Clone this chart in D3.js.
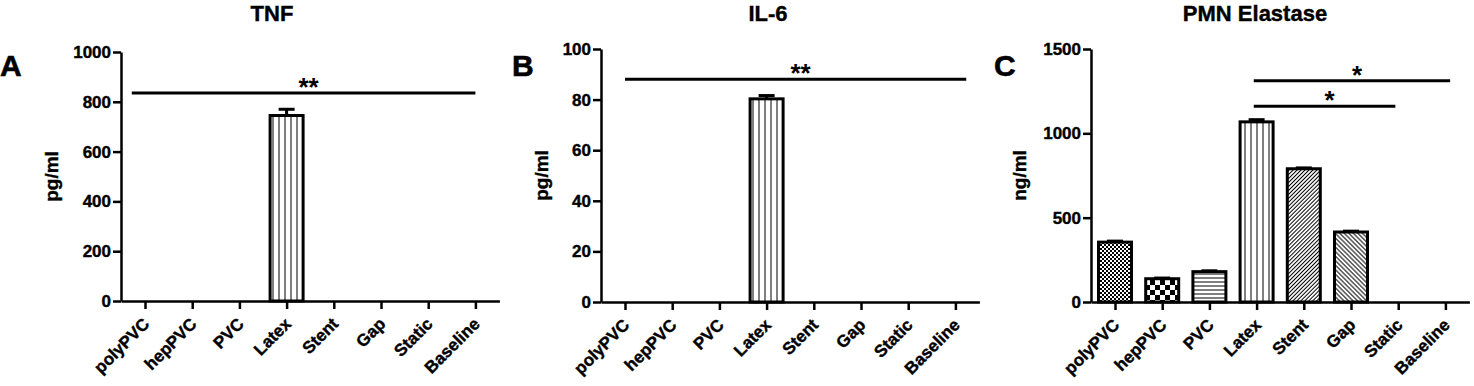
<!DOCTYPE html>
<html>
<head>
<meta charset="utf-8">
<script src="https://cdn.jsdelivr.net/npm/d3@7"></script>
<style>
  body { margin: 0; background: #fff; }
  svg { display: block; font-family: "Liberation Sans", Arial, sans-serif; }
</style>
</head>
<body>
<div id="chart"></div>
<script>
const categories = ['polyPVC', 'hepPVC', 'PVC', 'Latex', 'Stent', 'Gap', 'Static', 'Baseline'];

const tnfValues = [0, 0, 0, 745, 0, 0, 0, 0];
const tnfErrors = [0, 0, 0, 25, 0, 0, 0, 0];
const il6Values = [0, 0, 0, 80.3, 0, 0, 0, 0];
const il6Errors = [0, 0, 0, 1.3, 0, 0, 0, 0];
const elastaseValues = [355, 138, 180, 1068, 790, 415, 0, 0];
const elastaseErrors = [6, 4, 5, 13, 5, 5, 0, 0];

const tnfTicks = [0, 200, 400, 600, 800, 1000];
const il6Ticks = [0, 20, 40, 60, 80, 100];
const elastaseTicks = [0, 500, 1000, 1500];

// significance bars: span in category index units, height in data units
const tnfSig = [{ from: -0.28, to: 7, y: 835, label: '**' }];
const il6Sig = [{ from: 0, to: 7.23, y: 88, label: '**' }];
const elastaseSig = [
  { from: 2.94, to: 7.1, y: 1312, label: '*' },
  { from: 2.94, to: 5.94, y: 1161, label: '*' }
];

// hatch used by each group
const groupPatterns = ['fineCheck', 'coarseCheck', 'hlines', 'vlines', 'diagUp', 'diagDown', 'none', 'none'];

const width = 1474;
const height = 386;
const step = 47.2;
const barWidth = 33;

const panels = [
  { letter: 'A', title: 'TNF', yLabel: 'pg/ml', values: tnfValues, errors: tnfErrors, ticks: tnfTicks, sig: tnfSig,
    axisX: 121, yTop: 52, yBottom: 301, titleX: 272, letterX: 0, yLabelX: 58 },
  { letter: 'B', title: 'IL-6', yLabel: 'pg/ml', values: il6Values, errors: il6Errors, ticks: il6Ticks, sig: il6Sig,
    axisX: 601, yTop: 49, yBottom: 302, titleX: 768, letterX: 512, yLabelX: 548 },
  { letter: 'C', title: 'PMN Elastase', yLabel: 'ng/ml', values: elastaseValues, errors: elastaseErrors, ticks: elastaseTicks, sig: elastaseSig,
    axisX: 1091, yTop: 49, yBottom: 302, titleX: 1255, letterX: 994, yLabelX: 1026 }
];

const svg = d3.select('#chart')
  .append('svg')
  .attr('width', width)
  .attr('height', height);

svg.append('rect').attr('width', width).attr('height', height).attr('fill', '#fff');

// patterns
const defs = svg.append('defs');

const fine = defs.append('pattern').attr('id', 'fineCheck')
  .attr('patternUnits', 'userSpaceOnUse').attr('width', 4).attr('height', 4);
fine.append('rect').attr('width', 4).attr('height', 4).attr('fill', '#fff');
fine.append('rect').attr('width', 2).attr('height', 2).attr('fill', '#000');
fine.append('rect').attr('x', 2).attr('y', 2).attr('width', 2).attr('height', 2).attr('fill', '#000');

const coarse = defs.append('pattern').attr('id', 'coarseCheck')
  .attr('patternUnits', 'userSpaceOnUse').attr('width', 10).attr('height', 10);
coarse.append('rect').attr('width', 10).attr('height', 10).attr('fill', '#fff');
coarse.append('rect').attr('width', 5).attr('height', 5).attr('fill', '#000');
coarse.append('rect').attr('x', 5).attr('y', 5).attr('width', 5).attr('height', 5).attr('fill', '#000');

const hl = defs.append('pattern').attr('id', 'hlines')
  .attr('patternUnits', 'userSpaceOnUse').attr('width', 4).attr('height', 4);
hl.append('rect').attr('width', 4).attr('height', 4).attr('fill', '#fff');
hl.append('line').attr('x1', 0).attr('x2', 4).attr('y1', 2).attr('y2', 2).attr('stroke', '#000').attr('stroke-width', 1);

const vl = defs.append('pattern').attr('id', 'vlines')
  .attr('patternUnits', 'userSpaceOnUse').attr('width', 6).attr('height', 6);
vl.append('rect').attr('width', 6).attr('height', 6).attr('fill', '#fff');
vl.append('line').attr('x1', 3).attr('x2', 3).attr('y1', 0).attr('y2', 6).attr('stroke', '#000').attr('stroke-width', 1);

const du = defs.append('pattern').attr('id', 'diagUp')
  .attr('patternUnits', 'userSpaceOnUse').attr('width', 2.8).attr('height', 2.8)
  .attr('patternTransform', 'rotate(45)');
du.append('rect').attr('width', 2.8).attr('height', 2.8).attr('fill', '#fff');
du.append('line').attr('x1', 1.4).attr('x2', 1.4).attr('y1', 0).attr('y2', 2.8).attr('stroke', '#000').attr('stroke-width', 1);

const dd = defs.append('pattern').attr('id', 'diagDown')
  .attr('patternUnits', 'userSpaceOnUse').attr('width', 3.2).attr('height', 3.2)
  .attr('patternTransform', 'rotate(-45)');
dd.append('rect').attr('width', 3.2).attr('height', 3.2).attr('fill', '#fff');
dd.append('line').attr('x1', 1.6).attr('x2', 1.6).attr('y1', 0).attr('y2', 3.2).attr('stroke', '#000').attr('stroke-width', 1);

panels.forEach(p => {
  const g = svg.append('g').attr('class', 'panel');

  const x = d3.scalePoint()
    .domain(categories)
    .range([p.axisX, p.axisX + 7 * step + 48])
    .padding(24 / step);
  const y = d3.scaleLinear()
    .domain([0, d3.max(p.ticks)])
    .range([p.yBottom, p.yTop]);
  const xIdx = d3.scaleLinear()
    .domain([0, categories.length - 1])
    .range([x(categories[0]), x(categories[categories.length - 1])]);

  const data = categories.map((c, i) => ({ cat: c, value: p.values[i], err: p.errors[i], pattern: groupPatterns[i] }))
    .filter(d => d.value > 0);

  // bars
  g.selectAll('.bar')
    .data(data)
    .join('rect')
    .attr('class', 'bar')
    .attr('x', d => x(d.cat) - barWidth / 2)
    .attr('width', barWidth)
    .attr('y', d => y(d.value))
    .attr('height', d => y(0) - y(d.value))
    .attr('fill', d => `url(#${d.pattern})`)
    .attr('stroke', '#000')
    .attr('stroke-width', 3);

  // error bars
  const eb = g.selectAll('.err')
    .data(data)
    .join('g')
    .attr('class', 'err');
  eb.append('line')
    .attr('x1', d => x(d.cat)).attr('x2', d => x(d.cat))
    .attr('y1', d => y(d.value)).attr('y2', d => y(d.value + d.err))
    .attr('stroke', '#000').attr('stroke-width', 3);
  eb.append('line')
    .attr('x1', d => x(d.cat) - 8).attr('x2', d => x(d.cat) + 8)
    .attr('y1', d => y(d.value + d.err)).attr('y2', d => y(d.value + d.err))
    .attr('stroke', '#000').attr('stroke-width', 3);

  // axes
  const yAxis = g.append('g')
    .attr('class', 'y-axis')
    .attr('transform', `translate(${p.axisX},0)`)
    .call(d3.axisLeft(y).tickValues(p.ticks).tickFormat(d3.format('d')).tickSize(8).tickSizeOuter(0).tickPadding(2));
  const xAxis = g.append('g')
    .attr('class', 'x-axis')
    .attr('transform', `translate(0,${p.yBottom})`)
    .call(d3.axisBottom(x).tickSize(8).tickSizeOuter(0));

  [yAxis, xAxis].forEach(a => {
    a.selectAll('path').attr('stroke', '#000').attr('stroke-width', 2.5);
    a.selectAll('line').attr('stroke', '#000').attr('stroke-width', 2.5);
    a.selectAll('text')
      .attr('fill', '#000')
      .attr('stroke', '#000')
      .attr('stroke-width', 0.4)
      .attr('font-size', 17)
      .attr('font-weight', 700)
      .attr('font-family', '"Liberation Sans", Arial, sans-serif');
  });
  xAxis.selectAll('text')
    .attr('x', 0).attr('y', 0).attr('dy', 0)
    .attr('text-anchor', 'end')
    .attr('transform', 'translate(5,24) rotate(-45)');

  // significance bars
  const sg = g.selectAll('.sig')
    .data(p.sig)
    .join('g')
    .attr('class', 'sig');
  sg.append('line')
    .attr('x1', d => xIdx(d.from)).attr('x2', d => xIdx(d.to))
    .attr('y1', d => y(d.y)).attr('y2', d => y(d.y))
    .attr('stroke', '#000').attr('stroke-width', 3);
  sg.append('text')
    .attr('x', d => (xIdx(d.from) + xIdx(d.to)) / 2 + 5)
    .attr('y', d => y(d.y) + 3)
    .attr('text-anchor', 'middle')
    .attr('font-size', 26)
    .attr('font-weight', 700)
    .text(d => d.label);

  // titles and labels
  g.append('text')
    .attr('x', p.titleX).attr('y', 21)
    .attr('text-anchor', 'middle')
    .attr('font-size', 22).attr('font-weight', 700)
    .attr('stroke', '#000').attr('stroke-width', 0.4)
    .text(p.title);
  g.append('text')
    .attr('x', p.letterX).attr('y', 76)
    .attr('font-size', 30).attr('font-weight', 700)
    .attr('stroke', '#000').attr('stroke-width', 0.6)
    .text(p.letter);
  g.append('text')
    .attr('transform', `translate(${p.yLabelX},${(p.yTop + p.yBottom) / 2}) rotate(-90)`)
    .attr('text-anchor', 'middle')
    .attr('font-size', 19).attr('font-weight', 700)
    .attr('stroke', '#000').attr('stroke-width', 0.4)
    .text(p.yLabel);
});
</script>
</body>
</html>
